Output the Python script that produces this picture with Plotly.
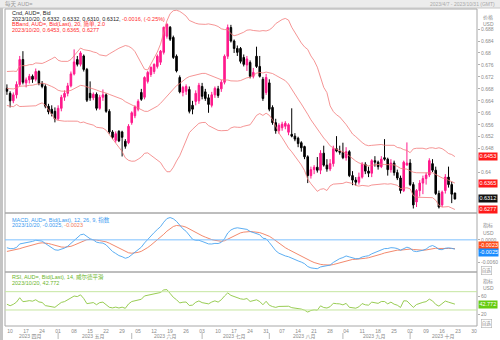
import numpy as np
import pandas as pd
import plotly.graph_objects as go

W, H = 500, 340

# Daily closes before the visible window (warm-up for BBands / MACD / RSI)
prior_closes = [
    0.7100, 0.7060, 0.6920, 0.6900, 0.6970, 0.6935, 0.6950, 0.6910,
    0.6960, 0.6965, 0.6920, 0.6880, 0.6890, 0.6900, 0.6870, 0.6810,
    0.6810, 0.6730, 0.6740, 0.6730, 0.6760, 0.6735, 0.6755, 0.6760,
    0.6600, 0.6590, 0.6600, 0.6600, 0.6660, 0.6670, 0.6630, 0.6660,
    0.6690, 0.6710, 0.6670, 0.6710, 0.6680, 0.6650, 0.6655, 0.6660,
    0.6680, 0.6705, 0.6685, 0.6765, 0.6710, 0.6680, 0.6682,
]

# AUD= daily bid candles, 2023-04-07 .. 2023-10-20
opens = [
    0.6682, 0.6665, 0.6640, 0.6660, 0.6695, 0.6778, 0.6700, 0.6710, 0.6722, 0.6712,
    0.6738, 0.6698, 0.6688, 0.6622, 0.6612, 0.6605, 0.6580, 0.6615, 0.6652, 0.6665,
    0.6690, 0.6730, 0.6778, 0.6762, 0.6790, 0.6745, 0.6665, 0.6650, 0.6662, 0.6615,
    0.6652, 0.6660, 0.6605, 0.6536, 0.6508, 0.6538, 0.6536, 0.6505, 0.6500, 0.6567,
    0.6590, 0.6612, 0.6668, 0.6652, 0.6705, 0.6728, 0.6738, 0.6755, 0.6769, 0.6802,
    0.6856, 0.6886, 0.6852, 0.6789, 0.6718, 0.6668, 0.6672, 0.6678, 0.6625, 0.6638,
    0.6640, 0.6688, 0.6670, 0.6650, 0.6625, 0.6660, 0.6680, 0.6680, 0.6702, 0.6789,
    0.6885, 0.6840, 0.6815, 0.6815, 0.6785, 0.6760, 0.6768, 0.6722, 0.6789, 0.6755,
    0.6712, 0.6668, 0.6700, 0.6618, 0.6567, 0.6540, 0.6550, 0.6555, 0.6535, 0.6528,
    0.6522, 0.6515, 0.6500, 0.6487, 0.6453, 0.6390, 0.6410, 0.6418, 0.6408, 0.6465,
    0.6425, 0.6412, 0.6430, 0.6480, 0.6472, 0.6468, 0.6450, 0.6470, 0.6390, 0.6375,
    0.6368, 0.6385, 0.6428, 0.6405, 0.6398, 0.6440, 0.6435, 0.6420, 0.6450, 0.6445,
    0.6410, 0.6432, 0.6400, 0.6382, 0.6340, 0.6425, 0.6432, 0.6360, 0.6302, 0.6340,
    0.6365, 0.6380, 0.6392, 0.6430, 0.6408, 0.6330, 0.6292, 0.6340, 0.6385, 0.6360,
    0.6332,
]
highs = [
    0.6695, 0.6672, 0.6668, 0.6705, 0.6790, 0.6806, 0.6718, 0.6730, 0.6728, 0.6748,
    0.6742, 0.6706, 0.6695, 0.6630, 0.6625, 0.6618, 0.6625, 0.6660, 0.6675, 0.6700,
    0.6738, 0.6812, 0.6790, 0.6806, 0.6795, 0.6750, 0.6705, 0.6668, 0.6668, 0.6660,
    0.6678, 0.6665, 0.6612, 0.6542, 0.6538, 0.6542, 0.6540, 0.6512, 0.6562, 0.6605,
    0.6625, 0.6645, 0.6680, 0.6722, 0.6740, 0.6755, 0.6765, 0.6795, 0.6810, 0.6888,
    0.6899, 0.6890, 0.6858, 0.6795, 0.6725, 0.6690, 0.6695, 0.6688, 0.6640, 0.6675,
    0.6700, 0.6700, 0.6680, 0.6662, 0.6670, 0.6688, 0.6690, 0.6710, 0.6795, 0.6895,
    0.6894, 0.6845, 0.6825, 0.6820, 0.6795, 0.6790, 0.6775, 0.6750, 0.6821, 0.6790,
    0.6720, 0.6730, 0.6712, 0.6625, 0.6580, 0.6565, 0.6570, 0.6572, 0.6565, 0.6615,
    0.6532, 0.6520, 0.6505, 0.6490, 0.6458, 0.6420, 0.6425, 0.6452, 0.6475, 0.6490,
    0.6445, 0.6445, 0.6490, 0.6522, 0.6490, 0.6500, 0.6485, 0.6475, 0.6405, 0.6385,
    0.6400, 0.6435, 0.6435, 0.6420, 0.6445, 0.6455, 0.6440, 0.6455, 0.6512, 0.6450,
    0.6445, 0.6440, 0.6410, 0.6390, 0.6440, 0.6501, 0.6445, 0.6368, 0.6345, 0.6375,
    0.6390, 0.6400, 0.6448, 0.6445, 0.6420, 0.6340, 0.6340, 0.6395, 0.6420, 0.6370,
    0.6332,
]
lows = [
    0.6660, 0.6618, 0.6632, 0.6648, 0.6688, 0.6695, 0.6685, 0.6698, 0.6700, 0.6705,
    0.6692, 0.6682, 0.6615, 0.6595, 0.6588, 0.6568, 0.6575, 0.6605, 0.6640, 0.6655,
    0.6685, 0.6725, 0.6755, 0.6755, 0.6738, 0.6636, 0.6640, 0.6642, 0.6608, 0.6610,
    0.6640, 0.6600, 0.6530, 0.6512, 0.6500, 0.6502, 0.6454, 0.6480, 0.6495, 0.6560,
    0.6582, 0.6605, 0.6640, 0.6645, 0.6698, 0.6720, 0.6730, 0.6748, 0.6760, 0.6795,
    0.6848, 0.6840, 0.6780, 0.6735, 0.6665, 0.6655, 0.6660, 0.6598, 0.6595, 0.6625,
    0.6630, 0.6645, 0.6640, 0.6600, 0.6618, 0.6650, 0.6650, 0.6670, 0.6695, 0.6780,
    0.6835, 0.6800, 0.6790, 0.6765, 0.6755, 0.6740, 0.6715, 0.6715, 0.6750, 0.6718,
    0.6640, 0.6660, 0.6605, 0.6560, 0.6530, 0.6530, 0.6540, 0.6545, 0.6525, 0.6518,
    0.6505, 0.6485, 0.6470, 0.6445, 0.6365, 0.6380, 0.6395, 0.6400, 0.6395, 0.6420,
    0.6403, 0.6405, 0.6420, 0.6468, 0.6460, 0.6445, 0.6440, 0.6385, 0.6358, 0.6357,
    0.6360, 0.6380, 0.6395, 0.6385, 0.6385, 0.6420, 0.6410, 0.6415, 0.6440, 0.6390,
    0.6400, 0.6390, 0.6375, 0.6330, 0.6335, 0.6425, 0.6355, 0.6280, 0.6285, 0.6320,
    0.6328, 0.6360, 0.6385, 0.6402, 0.6325, 0.6280, 0.6285, 0.6330, 0.6350, 0.6298,
    0.6310,
]
closes = [
    0.6672, 0.6640, 0.6660, 0.6695, 0.6778, 0.6702, 0.6710, 0.6722, 0.6712, 0.6738,
    0.6698, 0.6688, 0.6622, 0.6603, 0.6598, 0.6580, 0.6615, 0.6652, 0.6665, 0.6690,
    0.6730, 0.6770, 0.6762, 0.6800, 0.6745, 0.6642, 0.6650, 0.6662, 0.6615, 0.6652,
    0.6660, 0.6605, 0.6536, 0.6518, 0.6530, 0.6506, 0.6518, 0.6488, 0.6555, 0.6600,
    0.6620, 0.6638, 0.6645, 0.6718, 0.6735, 0.6752, 0.6762, 0.6789, 0.6806, 0.6886,
    0.6896, 0.6846, 0.6785, 0.6740, 0.6670, 0.6685, 0.6688, 0.6605, 0.6612, 0.6665,
    0.6692, 0.6655, 0.6648, 0.6628, 0.6660, 0.6682, 0.6658, 0.6702, 0.6789, 0.6885,
    0.6840, 0.6815, 0.6802, 0.6772, 0.6762, 0.6780, 0.6722, 0.6735, 0.6755, 0.6722,
    0.6648, 0.6718, 0.6612, 0.6567, 0.6540, 0.6558, 0.6562, 0.6565, 0.6560, 0.6522,
    0.6512, 0.6497, 0.6483, 0.6453, 0.6390, 0.6410, 0.6418, 0.6408, 0.6465, 0.6425,
    0.6412, 0.6430, 0.6480, 0.6472, 0.6468, 0.6450, 0.6470, 0.6390, 0.6375, 0.6368,
    0.6385, 0.6428, 0.6405, 0.6398, 0.6440, 0.6435, 0.6420, 0.6445, 0.6445, 0.6410,
    0.6432, 0.6400, 0.6382, 0.6340, 0.6435, 0.6432, 0.6360, 0.6292, 0.6340, 0.6365,
    0.6380, 0.6392, 0.6440, 0.6408, 0.6330, 0.6285, 0.6335, 0.6385, 0.6360, 0.6328,
    0.6312,
]

# axis tick values / labels
price_ticks = [0.628, 0.632, 0.636, 0.640, 0.644, 0.648, 0.652, 0.656, 0.660,
               0.664, 0.668, 0.672, 0.676, 0.680, 0.684, 0.688]
macd_ticks = [0.0, -0.006]
rsi_ticks = [60, 20]
month_names = {4: "四月", 5: "五月", 6: "六月", 7: "七月", 8: "八月", 9: "九月", 10: "十月"}

# ---- indicators ---------------------------------------------------------
n = len(closes)
days = pd.bdate_range("2023-04-07", "2023-10-31")
idx = np.arange(n)
off = len(prior_closes)
s = pd.Series(prior_closes + closes)

bb_mid = s.rolling(20).mean()
bb_sd = s.rolling(20).std(ddof=0)
bb_up = (bb_mid + 2 * bb_sd).iloc[off:].to_numpy()
bb_lo = (bb_mid - 2 * bb_sd).iloc[off:].to_numpy()
bb_mid = bb_mid.iloc[off:].to_numpy()

ema12 = s.ewm(span=12, adjust=False).mean()
ema26 = s.ewm(span=26, adjust=False).mean()
macd_all = ema12 - ema26
sig_all = macd_all.ewm(span=9, adjust=False).mean()
macd = macd_all.iloc[off:].to_numpy()
sig = sig_all.iloc[off:].to_numpy()

d = s.diff()
up_avg = d.clip(lower=0).ewm(alpha=1 / 14, adjust=False).mean()
dn_avg = (-d.clip(upper=0)).ewm(alpha=1 / 14, adjust=False).mean()
rsi = (100 - 100 / (1 + up_avg / dn_avg)).iloc[off:].to_numpy()


def px(x):
    return x / W


def py(y):
    return 1 - y / H


FONT = "Liberation Sans, Noto Sans CJK SC, sans-serif"
PINK = "#ff1a8c"
BB = "#f27a7a"
BLUE = "#4aa5f0"
ORANGE = "#f07c5c"
GREEN = "#8cc63f"
GRAY = "#8a8a8a"

fig = go.Figure()

fig.add_trace(go.Candlestick(
    x=idx, open=opens, high=highs, low=lows, close=closes,
    increasing=dict(line=dict(color=PINK, width=1), fillcolor=PINK),
    decreasing=dict(line=dict(color="#000000", width=1), fillcolor="#000000"),
    whiskerwidth=0, hoverinfo="skip", showlegend=False, xaxis="x", yaxis="y"))
for band in (bb_up, bb_mid, bb_lo):
    fig.add_trace(go.Scatter(x=idx, y=band, mode="lines", line=dict(color=BB, width=0.8),
                             hoverinfo="skip", showlegend=False, xaxis="x", yaxis="y"))

fig.add_trace(go.Scatter(x=idx, y=sig, mode="lines", line=dict(color=ORANGE, width=0.9),
                         hoverinfo="skip", showlegend=False, xaxis="x", yaxis="y2"))
fig.add_trace(go.Scatter(x=idx, y=macd, mode="lines", line=dict(color=BLUE, width=0.9),
                         hoverinfo="skip", showlegend=False, xaxis="x", yaxis="y2"))

fig.add_trace(go.Scatter(x=idx, y=rsi, mode="lines", line=dict(color=GREEN, width=0.9),
                         hoverinfo="skip", showlegend=False, xaxis="x", yaxis="y3"))

# ---- x ticks: Mondays, month labels underneath ----------------------------
mondays = [i for i, dt in enumerate(days) if dt.weekday() == 0]
mon_text = [f"{days[i].day:02d}" for i in mondays]

xr = [-0.6, 146.9]
last = n - 1

# price labels that would sit under a value flag are left out
flag_levels = [bb_up[last], bb_mid[last], closes[last], bb_lo[last]]
shown_ticks = [v for v in price_ticks if min(abs(v - f) for f in flag_levels) > 0.0019]


def fmt_price(v):
    return f"{v:.3f}".rstrip("0")


yaxis_common = dict(side="right", showgrid=False, zeroline=False, showline=False,
                    ticks="outside", ticklen=2, tickcolor="#b0b0b0",
                    tickfont=dict(size=5, color=GRAY, family=FONT), anchor="x")

fig.update_layout(
    width=W, height=H, margin=dict(l=0, r=0, t=0, b=0),
    paper_bgcolor="white", plot_bgcolor="white",
    font=dict(family=FONT, size=5, color=GRAY),
    xaxis=dict(domain=[px(5), px(477)], range=xr, anchor="y3",
               showgrid=False, zeroline=False, showline=False,
               tickvals=mondays, ticktext=mon_text, ticks="", ticklabelstandoff=1,
               tickfont=dict(size=5, color=GRAY, family=FONT),
               rangeslider=dict(visible=False)),
    yaxis=dict(domain=[py(213), py(9)], range=[0.6265, 0.6947],
               tickvals=shown_ticks, ticktext=[fmt_price(v) for v in shown_ticks], **yaxis_common),
    yaxis2=dict(domain=[py(272), py(213)], range=[-0.0085, 0.0071],
                tickvals=macd_ticks, ticktext=[f"{v:.4f}" for v in macd_ticks], **yaxis_common),
    yaxis3=dict(domain=[py(326), py(272)], range=[-5, 113],
                tickvals=rsi_ticks, ticktext=[str(v) for v in rsi_ticks], **yaxis_common),
)

shapes = []
# window chrome
shapes.append(dict(type="rect", xref="paper", yref="paper", x0=0, x1=1, y0=py(8), y1=1,
                   fillcolor="#ececec", line=dict(width=0), layer="below"))
shapes.append(dict(type="line", xref="paper", yref="paper", x0=0, x1=1, y0=py(8), y1=py(8),
                   line=dict(color="#c8c8c8", width=1)))
shapes.append(dict(type="rect", xref="paper", yref="paper", x0=0, x1=px(3), y0=0, y1=py(8),
                   fillcolor="#c4c4c4", line=dict(width=0)))
# panel frames
for top, bot in ((9, 213), (213, 272), (272, 326)):
    shapes.append(dict(type="rect", xref="paper", yref="paper", x0=px(5), x1=px(477),
                       y0=py(bot), y1=py(top), line=dict(color="#a8a8a8", width=1)))
# MACD zero line, RSI 70 / 30 levels
shapes.append(dict(type="line", xref="paper", yref="y2", x0=px(5), x1=px(477), y0=0, y1=0,
                   line=dict(color="#7cc0ff", width=1)))
for lvl in (70, 30):
    shapes.append(dict(type="line", xref="paper", yref="y3", x0=px(5), x1=px(477), y0=lvl, y1=lvl,
                       line=dict(color="#c6e6a0", width=1)))

annotations = []


def note(x, y, text, color=GRAY, size=5, xanchor="left", xref="paper", yref="paper", **kw):
    annotations.append(dict(x=x, y=y, xref=xref, yref=yref, text=text, showarrow=False,
                            xanchor=xanchor, yanchor="middle",
                            font=dict(size=size, color=color, family=FONT), **kw))


# month labels and separators
month_of = np.array([dt.month for dt in days])
for m in sorted(set(month_of)):
    pos = np.where(month_of == m)[0]
    centre = (pos[0] + min(pos[-1], xr[1])) / 2
    note(centre, py(336.5), f"2023 {month_names[m]}", xref="x", xanchor="center")
    if pos[0] > 0:
        shapes.append(dict(type="line", xref="x", yref="paper", x0=pos[0], x1=pos[0],
                           y0=py(339), y1=py(333), line=dict(color="#b8b8b8", width=1)))

# title bar
note(px(3), py(4), "每天 AUD=", color="#9a9a9a", size=5.5)
note(px(497), py(4.5), f"{days[0].year}/{days[0].month}/{days[0].day} - "
     f"{days[-1].year}/{days[-1].month}/{days[-1].day} (GMT)", color="#a8a8a8", size=5, xanchor="right")

# legend texts
dstr = f"{days[last].year}/{days[last].month:02d}/{days[last].day:02d}"
chg = closes[last] - closes[last - 1]
pct = chg / closes[last - 1] * 100
red = "#ff2a2a"
note(px(10), py(13.5), "Cnd, AUD=, Bid", color="#222222", size=5.5)
note(px(10), py(19), f"{dstr}, {opens[last]:.4f}, {highs[last]:.4f}, {lows[last]:.4f}, {closes[last]:.4f}, "
     f"<span style='color:{red}'>{chg:.4f}, ({pct:.2f}%)</span>", color="#222222", size=5.5)
note(px(10), py(24.5), "BBand, AUD=, Bid(Last), 20, 简单, 2.0", color=red, size=5.5)
note(px(10), py(30), f"{dstr}, {bb_up[last]:.4f}, {bb_mid[last]:.4f}, {bb_lo[last]:.4f}", color=red, size=5.5)

note(px(10), py(219.5), "MACD, AUD=, Bid(Last), 12, 26, 9, 指数", color="#3a9af0", size=5.5)
note(px(10), py(225), f"{dstr}, {macd[last]:.4f}, <span style='color:{ORANGE}'>{sig[last]:.4f}</span>",
     color="#3a9af0", size=5.5)

note(px(10), py(277), "RSI, AUD=, Bid(Last), 14, 威尔德平滑", color="#6cb52a", size=5.5)
note(px(10), py(282.5), f"{dstr}, {rsi[last]:.3f}", color="#6cb52a", size=5.5)

# right-hand axis captions
for y_cap, cap in ((17, "价格"), (24, "USD"), (225, "指标"), (232.5, "USD"), (281, "指标"), (288, "USD")):
    note(px(481), py(y_cap), cap, color=GRAY, size=5)
for y_btn in (270.5, 323):
    note(px(481), py(y_btn), "自选", color=GRAY, size=4.5, bordercolor="#b0b0b0", borderwidth=0.6, borderpad=0.2)


# value flags on the right axis
def flag(yref, v, text, bg, shift=0):
    annotations.append(dict(x=px(477.5), y=v, xref="paper", yref=yref, text=text, showarrow=False,
                            xanchor="left", yanchor="middle", bgcolor=bg, borderpad=0.4, yshift=shift,
                            font=dict(size=5.5, color="white", family=FONT)))


flag("y", bb_up[last], f"{bb_up[last]:.4f}", "#ff1a1a")
flag("y", bb_mid[last], f"{bb_mid[last]:.4f}", "#ff1a1a")
flag("y", closes[last], f"{closes[last]:.4f}", "#111111")
flag("y", bb_lo[last], f"{bb_lo[last]:.4f}", "#ff1a1a")
# the two MACD flags sit almost on the same level: stack them
upper_is_sig = sig[last] >= macd[last]
flag("y2", sig[last], f"{sig[last]:.4f}", "#ff4d1a", 3.5 if upper_is_sig else -3.5)
flag("y2", macd[last], f"{macd[last]:.4f}", "#1a8cff", -3.5 if upper_is_sig else 3.5)
flag("y3", rsi[last], f"{rsi[last]:.3f}", "#66cc11")

fig.update_layout(shapes=shapes, annotations=annotations)
fig.write_html("out.html")
